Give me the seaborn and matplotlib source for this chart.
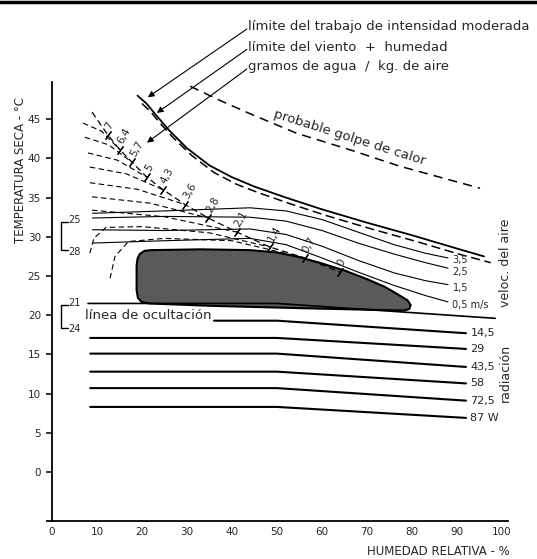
import numpy as np
import pandas as pd
import matplotlib.pyplot as plt
import seaborn as sns
from matplotlib.patches import Polygon
from matplotlib.lines import Line2D

sns.set_theme(style="white")
plt.rcParams['font.family'] = ['DejaVu Sans']

# ejes: humedad relativa (%) y temperatura seca (°C)
hum_ticks = list(range(0, 101, 10))
temp_ticks = list(range(0, 46, 5))

# lineas de radiacion (W)
rad_labels = ["14,5", "29", "43,5", "58", "72,5", "87 W"]
rad_x_start = [36, 8.5, 8.5, 8.5, 8.5, 8.5]
rad_x_knee = 50
rad_x_end = 92
rad_t_left = [19.3, 17.1, 15.1, 12.8, 10.7, 8.3]
rad_t_right = [17.7, 15.7, 13.4, 11.3, 9.1, 6.9]

# linea de ocultacion
ocult_x = [8, 50, 98.5]
ocult_t = [21.5, 21.5, 19.6]

# zona de confort (mancha gris)
blob_x = [22.0, 33, 44, 50, 55, 60, 65, 70, 74, 77, 79.0, 79.7, 79.4, 78.3,
          70, 55, 35, 21.5, 19.9, 19.1, 18.8, 18.8, 19.0, 19.5, 20.5]
blob_t = [28.3, 28.4, 28.3, 28.0, 27.4, 26.6, 25.7, 24.6, 23.6, 22.6, 21.9,
          21.3, 20.8, 20.6, 20.7, 20.9, 21.2, 21.5, 21.7, 22.2, 23.2, 26.3,
          27.2, 27.8, 28.2]

# velocidad del aire (m/s)
wind_labels = ["3,5", "2,5", "1,5", "0,5 m/s"]
wind_x = [9, 25, 44, 52, 60, 68, 76, 83, 88]
wind_t = [
    [33.0, 33.3, 33.7, 33.3, 32.2, 30.6, 29.0, 27.9, 27.3],
    [32.4, 32.6, 32.5, 32.0, 30.8, 29.2, 27.8, 26.7, 26.0],
    [30.9, 30.8, 31.0, 30.3, 28.8, 27.0, 25.4, 24.4, 23.9],
    [29.2, 29.5, 29.8, 29.0, 27.3, 25.5, 23.8, 22.5, 21.7],
]
wind_label_t = [27.0, 25.5, 23.5, 21.3]

# gramos de agua / kg de aire (linea diagonal)
gram_labels = ["7", "6,4", "5,7", "5", "4,3", "3,6", "2,8", "2,1", "1,4", "0,7", "0"]
gram_x = [12.4, 15.1, 17.8, 21.1, 24.7, 29.6, 34.7, 41.1, 48.4, 56.2, 64.0]
gram_t = [43.0, 41.1, 39.5, 37.6, 36.0, 34.1, 32.4, 30.6, 28.7, 27.3, 25.5]
diag_start = (8.9, 45.9)

# curvas de humedad (discontinuas) que llegan a la diagonal
moist_start_x = [6.9, 7.3, 8.0, 8.4, 8.4, 8.9, 8.9]
moist_start_t = [44.5, 42.7, 40.7, 38.9, 36.9, 35.1, 33.4]
arc1_x = [8.4, 9.3, 12.0, 20, 35, 48.4]
arc1_t = [27.9, 29.8, 31.2, 31.3, 30.5, 28.7]
arc2_x = [12.9, 14.0, 17.0, 25, 40, 56.2]
arc2_t = [24.7, 27.5, 29.4, 29.8, 29.5, 27.3]

# limites superiores
lim_x = [19, 21, 23, 26, 30, 35, 40, 45, 52, 60, 70, 80, 90, 96]
lim_t = [48.0, 47.0, 45.6, 43.6, 41.3, 39.1, 37.6, 36.4, 35.0, 33.5, 31.8, 30.2, 28.5, 27.5]
wet_x = [20, 22, 24, 27, 31, 36, 41, 46, 53, 61, 71, 81, 91, 97.5]
wet_t = [47.0, 45.9, 44.5, 42.6, 40.4, 38.2, 36.7, 35.6, 34.2, 32.7, 31.0, 29.4, 27.7, 26.7]
heat_x = [30.7, 37.3, 44.0, 54.4, 66.2, 77.3, 95.1]
heat_t = [49.2, 47.4, 45.7, 43.2, 41.1, 39.0, 36.2]

callouts = ["límite del trabajo de intensidad moderada",
            "límite del viento  +  humedad",
            "gramos de agua  /  kg. de aire"]
callout_t = [56.8, 54.2, 51.7]
callout_tip = [(21.3, 47.8), (23.3, 45.8), (21.1, 42.0)]

fig = plt.figure(figsize=(5.37, 5.59), dpi=100)
ax = fig.add_axes([0, 0, 1, 1])
ax.set_xlim(-52 / 4.5, 485 / 4.5)
ax.set_ylim(-87 / 7.84, 472 / 7.84)


def line(x, y, lw=0.8, ls='-'):
    sns.lineplot(x=x, y=y, sort=False, estimator=None, ax=ax,
                 color='black', lw=lw, linestyle=ls)


# radiacion
for i in range(len(rad_labels)):
    line([rad_x_start[i], rad_x_knee, rad_x_end],
         [rad_t_left[i], rad_t_left[i], rad_t_right[i]], lw=1.5)
    ax.text(rad_x_end + 1, rad_t_right[i], rad_labels[i], fontsize=8,
            va='center', ha='left')

line(ocult_x, ocult_t, lw=1.2)
ax.text(7.3, 19.9, "línea de ocultación", fontsize=9.5, va='center')

ax.add_patch(Polygon(list(zip(blob_x, blob_t)), closed=True,
                     facecolor='#5a5a5a', edgecolor='black', lw=1.5))

for t, lab, lt in zip(wind_t, wind_labels, wind_label_t):
    line(wind_x, t, lw=0.8)
    ax.text(wind_x[-1] + 1, lt, lab, fontsize=7, va='center', ha='left')

dash = (0, (5, 3))
line([diag_start[0]] + gram_x, [diag_start[1]] + gram_t, lw=0.9, ls=dash)
ax.scatter(gram_x, gram_t, marker=(2, 2, -35), s=40, color='black', lw=0.9)
for gx, gt, lab in zip(gram_x, gram_t, gram_labels):
    ax.text(gx + 1.0, gt + 0.5, lab, fontsize=7.5, rotation=60,
            ha='left', va='bottom', rotation_mode='anchor')

for i in range(len(moist_start_x)):
    x0, t0 = moist_start_x[i], moist_start_t[i]
    x1, t1 = gram_x[i + 1], gram_t[i + 1]
    line([x0, (x0 + x1) / 2, x1], [t0, t0 - 0.3 * (t0 - t1), t1], lw=0.8, ls=dash)
line(arc1_x, arc1_t, lw=0.8, ls=dash)
line(arc2_x, arc2_t, lw=0.8, ls=dash)

line(lim_x, lim_t, lw=1.3)
line(wet_x, wet_t, lw=1.1, ls=(0, (6, 3)))
line(heat_x, heat_t, lw=1.1, ls=(0, (6, 4)))
ax.text(66.2, 42.7, "probable golpe de calor", fontsize=9.5, rotation=-17.5,
        ha='center', va='center')

for txt, t, tip in zip(callouts, callout_t, callout_tip):
    ax.text(43.6, t, txt, fontsize=9.5, va='center', ha='left')
    ax.annotate('', xy=tip, xytext=(43.3, t - 0.3),
                arrowprops=dict(arrowstyle='-|>', color='black', lw=0.8,
                                mutation_scale=9, shrinkA=0, shrinkB=0))

# brackets de confort junto al eje
for top, bot, lt, lb in [(31.9, 28.3, "25", "28"), (21.3, 18.4, "21", "24")]:
    line([3.6, 2.0, 2.0, 3.6], [top, top, bot, bot], lw=1.0)
    ax.text(3.6, top + 0.3, lt, fontsize=7, va='center')
    ax.text(3.6, bot - 0.2, lb, fontsize=7, va='center')

ax.text(100.7, 26.7, "veloc. del aire", fontsize=9, rotation=90, va='center', ha='center')
ax.text(100.7, 12.6, "radiación", fontsize=9, rotation=90, va='center', ha='center')

# ejes
for s in ['top', 'right']:
    ax.spines[s].set_visible(False)
ax.spines['left'].set_position(('data', 0))
ax.spines['left'].set_bounds(-6.25, 49.7)
ax.spines['bottom'].set_position(('data', -6.25))
ax.spines['bottom'].set_bounds(-1.2, 101.3)
for s in ['left', 'bottom']:
    ax.spines[s].set_color('black')
    ax.spines[s].set_linewidth(1.3)

ax.set_xticks(hum_ticks)
ax.set_yticks(temp_ticks)
ax.set_yticks(temp_ticks, minor=True)
ax.yaxis.remove_overlapping_locs = False
ax.tick_params(axis='both', which='major', direction='in', length=12,
               width=1.1, color='black', labelsize=7.5)
ax.tick_params(axis='y', which='major', pad=8)
ax.tick_params(axis='x', which='major', pad=4)
ax.tick_params(axis='y', which='minor', direction='out', length=4, width=1.1,
               color='black', left=True)
ax.set_xlabel('')
ax.set_ylabel('')
ax.text(-7.1, 38.5, "TEMPERATURA SECA - °C", fontsize=8.5, rotation=90,
        va='center', ha='center')
ax.text(101.8, -10.2, "HUMEDAD RELATIVA - %", fontsize=8.5, va='center', ha='right')

fig.add_artist(Line2D([0, 1], [1 - 1.5 / 559] * 2, transform=fig.transFigure,
                      color='black', lw=2.5))

fig.savefig("out.png", dpi=100)
